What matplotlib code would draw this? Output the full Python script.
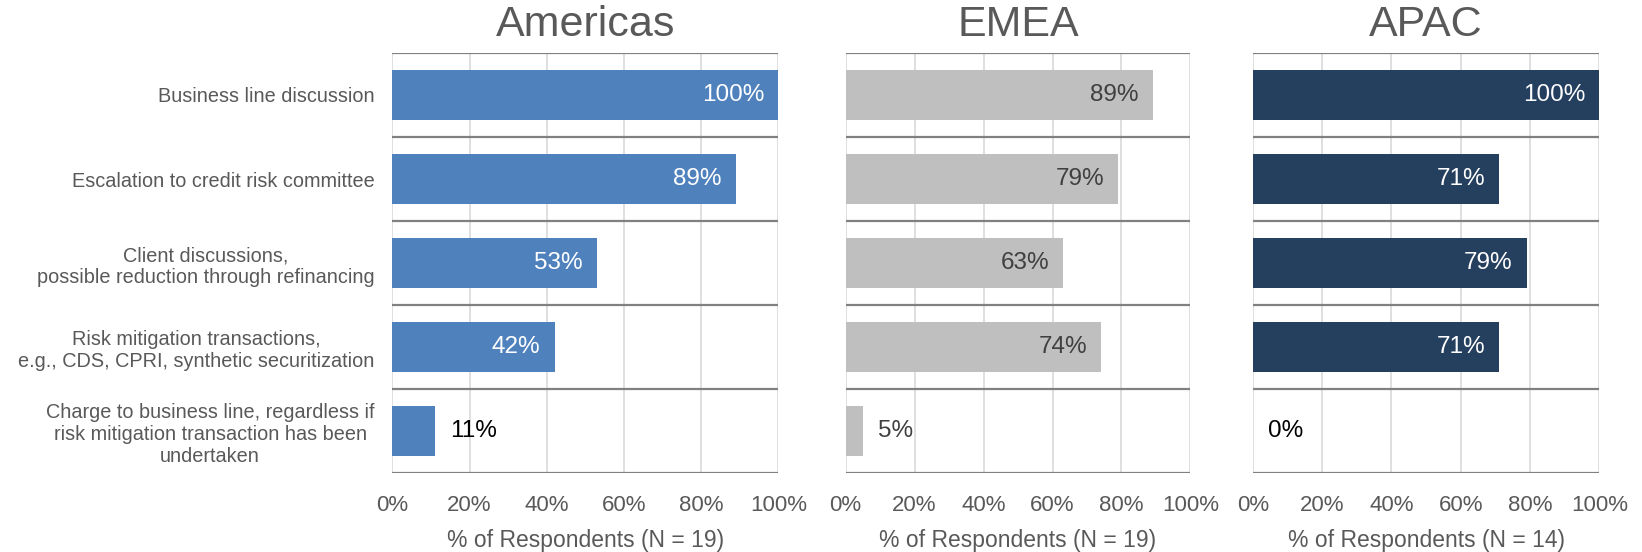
import matplotlib
matplotlib.use("Agg")
import matplotlib.pyplot as plt
import numpy as np

plt.rcParams['font.family'] = ['Liberation Sans', 'DejaVu Sans']

categories = [
    "Business line discussion",
    "Escalation to credit risk committee",
    "Client discussions,\npossible reduction through refinancing",
    "Risk mitigation transactions,\ne.g., CDS, CPRI, synthetic securitization",
    "Charge to business line, regardless if\nrisk mitigation transaction has been\nundertaken",
]
regions = ["Americas", "EMEA", "APAC"]
americas = [100, 89, 53, 42, 11]
emea = [89, 79, 63, 74, 5]
apac = [100, 71, 79, 71, 0]
n_resp = [19, 19, 14]
ticks = [0, 20, 40, 60, 80, 100]

colors = ["#4F81BD", "#BFBFBF", "#253F5F"]
inside_text = ["white", "#404040", "white"]
outside_text = ["black", "#404040", "black"]
grey = "#595959"

fig = plt.figure(figsize=(16.42, 5.52), dpi=100)
boxes = [(0.239, 0.235), (0.515, 0.210), (0.763, 0.211)]
bottom, top = 0.143, 0.904

for k, (vals, name) in enumerate(zip([americas, emea, apac], regions)):
    left, width = boxes[k]
    ax = fig.add_axes([left, bottom, width, top - bottom])
    y = np.arange(len(categories))
    ax.barh(y, vals, height=0.6, color=colors[k], zorder=3)
    ax.set_xlim(0, 100)
    ax.set_ylim(len(categories) - 0.5, -0.5)

    # grid: light vertical lines, darker row separators
    for t in ticks:
        ax.axvline(t, color="#D9D9D9", lw=1.2, zorder=1)
    for b in np.arange(-0.5, len(categories), 1.0):
        ax.axhline(b, color="#808080", lw=1.6, zorder=2)

    for sp in ax.spines.values():
        sp.set_visible(False)

    for yi, v in zip(y, vals):
        lab = f"{v}%"
        if v >= 30:
            ax.annotate(lab, (v, yi), xytext=(-10, 0), textcoords="offset points",
                        ha="right", va="center", fontsize=17.5, color=inside_text[k], zorder=4)
        else:
            ax.annotate(lab, (v, yi), xytext=(11, 0), textcoords="offset points",
                        ha="left", va="center", fontsize=17.5, color=outside_text[k], zorder=4)

    ax.set_xticks(ticks)
    ax.set_xticklabels([f"{t}%" for t in ticks], fontsize=16, color=grey)
    ax.tick_params(axis="x", length=0, pad=16)
    ax.set_xlabel(f"% of Respondents (N = {n_resp[k]})", fontsize=16.5, color=grey, labelpad=9)
    ax.set_title(name, fontsize=31, color=grey, pad=12)

    if k == 0:
        ax.set_yticks(y)
        ax.set_yticklabels(categories, fontsize=14.3, color=grey, multialignment="center")
        ax.tick_params(axis="y", length=0, pad=13)
    else:
        ax.set_yticks([])

fig.savefig("out.png", dpi=100)
